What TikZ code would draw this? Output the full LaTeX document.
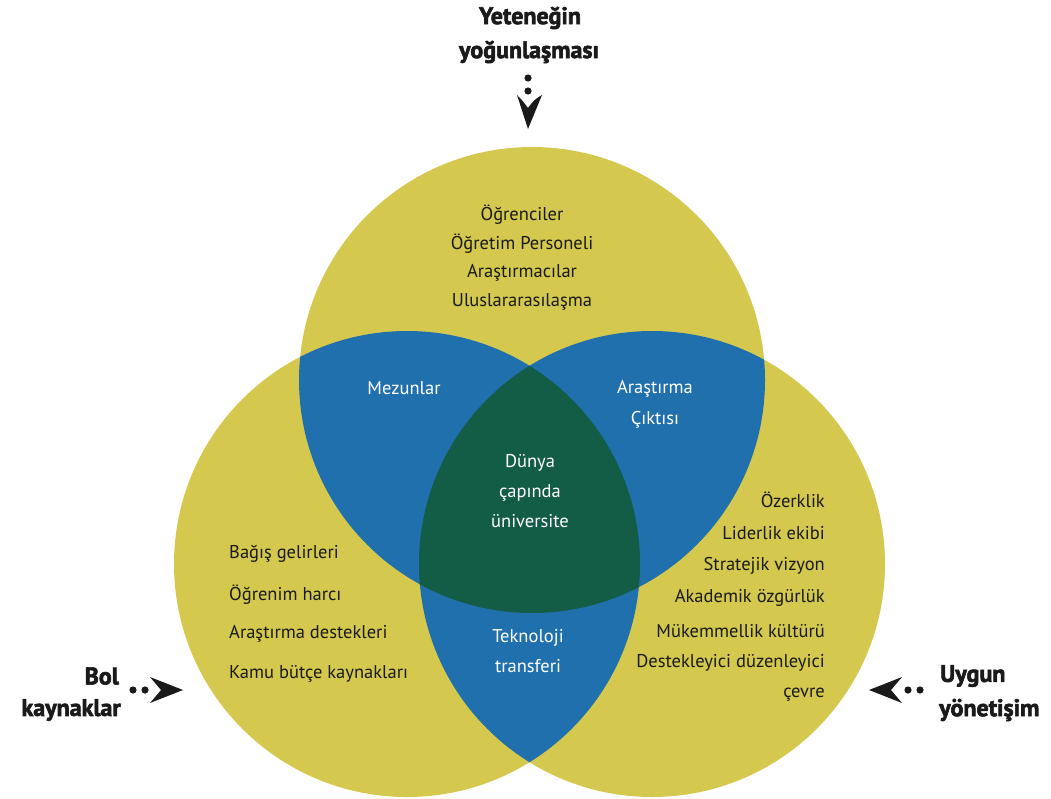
\documentclass[tikz,border=0pt]{standalone}
\usepackage{fontspec}
\setmainfont{PT Sans}
\newfontfamily\heavyfont[BoldFeatures={FakeBold=2.5}]{PT Sans}
\definecolor{venny}{HTML}{D4C94E}
\definecolor{vennb}{HTML}{2170AE}
\definecolor{venng}{HTML}{135C45}
\definecolor{ink}{HTML}{1A1A1A}
\begin{document}
\begin{tikzpicture}[x=1pt,y=-1pt,
  txt/.style={font=\fontsize{18.5}{20}\selectfont, text=ink, inner sep=0},
  wtxt/.style={txt, text=white},
  lbl/.style={font=\fontsize{24}{26}\selectfont\heavyfont\bfseries, text=ink, inner sep=0},
  pointer/.style={fill=ink},
  ring/.style={radius=233pt}]
\useasboundingbox (0,0) rectangle (1051,798);
\coordinate (T) at (532,380);
\coordinate (L) at (407,564);
\coordinate (R) at (652,564);
% circles
\fill[venny] (T) circle[ring];
\fill[venny] (L) circle[ring];
\fill[venny] (R) circle[ring];
% pairwise overlaps
\begin{scope}
  \clip (T) circle[ring];
  \fill[vennb] (L) circle[ring];
  \fill[vennb] (R) circle[ring];
\end{scope}
\begin{scope}
  \clip (L) circle[ring];
  \fill[vennb] (R) circle[ring];
\end{scope}
% triple overlap
\begin{scope}
  \clip (T) circle[ring];
  \clip (L) circle[ring];
  \fill[venng] (R) circle[ring];
\end{scope}
% top circle text
\node[txt] (t1) at (522,215) {Öğrenciler};
\node[txt] (t2) at (522,244) {Öğretim Personeli};
\node[txt] (t3) at (522,273) {Araştırmacılar};
\node[txt] (t4) at (522,302) {Uluslararasılaşma};
% overlaps
\node[wtxt] (m1) at (404,388) {Mezunlar};
\node[wtxt, align=center, font=\fontsize{18.5}{31}\selectfont] (a1) at (655,404) {Araştırma\\Çıktısı};
\node[wtxt, align=center, font=\fontsize{18.5}{30}\selectfont] (c1) at (530,491) {Dünya\\çapında\\üniversite};
\node[wtxt, align=center, font=\fontsize{18.5}{30}\selectfont] (k1) at (528,651) {Teknoloji\\transferi};
% left list
\node[txt, anchor=west] (l1) at (229,554) {Bağış gelirleri};
\node[txt, anchor=west] (l2) at (229,595) {Öğrenim harcı};
\node[txt, anchor=west] (l3) at (229,634) {Araştırma destekleri};
\node[txt, anchor=west] (l4) at (229,674) {Kamu bütçe kaynakları};
% right list
\node[txt, anchor=east] (r1) at (825,500) {Özerklik};
\node[txt, anchor=east] (r2) at (825,533) {Liderlik ekibi};
\node[txt, anchor=east] (r3) at (825,566) {Stratejik vizyon};
\node[txt, anchor=east] (r4) at (825,598) {Akademik özgürlük};
\node[txt, anchor=east] (r5) at (825,631) {Mükemmellik kültürü};
\node[txt, anchor=east] (r6) at (825,663) {Destekleyici düzenleyici};
\node[txt, anchor=east] (r7) at (825,695) {çevre};
% outer labels
\node[lbl] (top1) at (530,18) {Yeteneğin};
\node[lbl] (top2) at (529,52) {yoğunlaşması};
\node[lbl, anchor=east] (bl1) at (119,676) {Bol};
\node[lbl, anchor=east] (bl2) at (121,710) {kaynaklar};
\node[lbl, anchor=west] (ug1) at (940,676) {Uygun};
\node[lbl, anchor=west] (ug2) at (939,710) {yönetişim};
% top marker
\fill[pointer] (528,78) circle[radius=3.6pt];
\fill[pointer] (528,91) circle[radius=3.6pt];
\fill[pointer] (517,95) .. controls (522,100) .. (528,108) .. controls (534,100) .. (542,95) -- (528,129) -- cycle;
% left marker
\fill[pointer] (133,690) circle[radius=3.6pt];
\fill[pointer] (145,690) circle[radius=3.6pt];
\fill[pointer] (150,677) .. controls (155,683) .. (161,690) .. controls (155,697) .. (150,703) -- (183,690) -- cycle;
% right marker
\fill[pointer] (908,690) circle[radius=3.6pt];
\fill[pointer] (920,690) circle[radius=3.6pt];
\fill[pointer] (902,677) .. controls (897,683) .. (891,690) .. controls (897,697) .. (902,703) -- (869,690) -- cycle;
\end{tikzpicture}
\end{document}
